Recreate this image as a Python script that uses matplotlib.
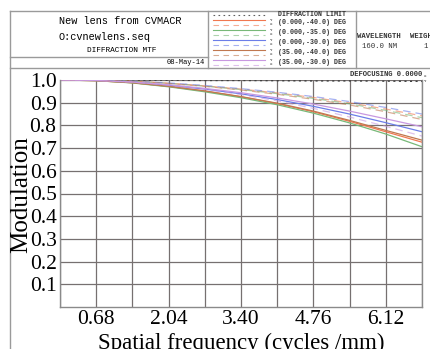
'''
Diffraction MTF plot (CODE V style)
'''

import numpy as np
import matplotlib
matplotlib.use('Agg')
import matplotlib.pyplot as plt
from matplotlib.lines import Line2D

# ═══ Data ═════════════════════════════════════════════════════════════════

freq = [0.0, 0.68, 1.36, 2.04, 2.72, 3.40, 4.08, 4.76, 5.44, 6.12, 6.80]
xtick_vals = [0.68, 2.04, 3.40, 4.76, 6.12]
ytick_vals = [0.1, 0.2, 0.3, 0.4, 0.5, 0.6, 0.7, 0.8, 0.9, 1.0]

diff_limit = [1.0, 1.0, 0.999, 0.999, 0.998, 0.998, 0.997, 0.996, 0.996, 0.995, 0.994]

fields = ['(0.000,-40.0) DEG', '(0.000,-35.0) DEG', '(0.000,-30.0) DEG',
          '(35.00,-40.0) DEG', '(35.00,-30.0) DEG']

# Y (tangential, solid)
mtf_y = [
  [1.0, 0.997, 0.988, 0.972, 0.951, 0.926, 0.896, 0.860, 0.818, 0.772, 0.726],
  [1.0, 0.997, 0.987, 0.970, 0.948, 0.922, 0.891, 0.854, 0.811, 0.762, 0.706],
  [1.0, 0.998, 0.990, 0.977, 0.960, 0.939, 0.914, 0.884, 0.850, 0.812, 0.772],
  [1.0, 0.997, 0.988, 0.972, 0.952, 0.927, 0.898, 0.863, 0.822, 0.778, 0.735],
  [1.0, 0.998, 0.991, 0.979, 0.963, 0.944, 0.921, 0.894, 0.863, 0.829, 0.794],
]
# X (sagittal, dashed)
mtf_x = [
  [1.0, 0.999, 0.995, 0.986, 0.974, 0.960, 0.943, 0.923, 0.899, 0.872, 0.842],
  [1.0, 0.999, 0.995, 0.985, 0.973, 0.958, 0.940, 0.919, 0.895, 0.866, 0.834],
  [1.0, 0.999, 0.995, 0.987, 0.976, 0.962, 0.946, 0.927, 0.905, 0.879, 0.850],
  [1.0, 0.999, 0.994, 0.985, 0.972, 0.956, 0.937, 0.915, 0.890, 0.860, 0.826],
  [1.0, 0.998, 0.990, 0.977, 0.959, 0.936, 0.908, 0.875, 0.837, 0.796, 0.753],
]

cols = ['#f07850', '#78b878', '#6c7ee8', '#c07850', '#c898e0']

# ═══ Figure ═══════════════════════════════════════════════════════════════

W, H = 431, 349
fig = plt.figure(figsize=(W/100, H/100), dpi=100)

def P(x, y):
  return x/W, 1 - y/H

mono = 'Liberation Mono'
serif = 'Liberation Serif'

# ─── Axes ─────────────────────────────────────────────────────────────────

L, R, T, B = 60, 422, 80, 307
ax = fig.add_axes([L/W, 1 - B/H, (R - L)/W, (B - T)/H])

ax.plot(freq, diff_limit, color='#404040', lw=1, linestyle=(0, (1.5, 2.5)))
for k in range(len(fields)):
  ax.plot(freq, mtf_x[k], color=cols[k], lw=0.9, alpha=0.6,
          linestyle=(k*2, (6, 4)))
  ax.plot(freq, mtf_y[k], color=cols[k], lw=0.9)

ax.set_xlim(0, 6.8)
ax.set_ylim(0, 1.0)
grid_x = np.arange(11)*0.68
ax.set_xticks(grid_x)
ax.set_xticklabels([f'{v:.2f}' if round(v, 2) in xtick_vals else '' for v in grid_x],
                   fontfamily=serif, fontsize=15.5)
ax.set_yticks(ytick_vals)
ax.set_yticklabels([f'{v:.1f}' for v in ytick_vals], fontfamily=serif, fontsize=15.5)
ax.tick_params(length=0, pad=2.5)
ax.grid(True, color='#767070', lw=0.9)
for s in ['left', 'right', 'bottom']:
  ax.spines[s].set_color('#8a8a8a')
  ax.spines[s].set_linewidth(1)
ax.spines['top'].set_visible(False)

fig.text(*P(21, 195), 'Modulation', rotation=90, ha='center', va='center',
         fontfamily=serif, fontsize=18)
fig.text(*P(241, 343), 'Spatial frequency (cycles /mm)', ha='center', va='center',
         fontfamily=serif, fontsize=16.5)

# ─── Header block ─────────────────────────────────────────────────────────

lc = '#9a9a9a'
def hline(x0, x1, y):
  fig.add_artist(Line2D([x0/W, x1/W], [1 - y/H, 1 - y/H], color=lc, lw=1))
def vline(x, y0, y1):
  fig.add_artist(Line2D([x/W, x/W], [1 - y0/H, 1 - y1/H], color=lc, lw=1))

hline(10, W, 11)
hline(10, W, 68)
hline(10, 208, 57)
vline(10, 11, H)
vline(208, 11, 68)
vline(356, 11, 68)

fig.text(*P(59, 21), 'New lens from CVMACR', fontfamily=mono, fontsize=7.4, va='center')
fig.text(*P(59, 37), 'O:cvnewlens.seq', fontfamily=mono, fontsize=7.4, va='center')
fig.text(*P(122, 50), 'DIFFRACTION MTF', fontfamily=mono, fontsize=5.6, ha='center', va='center')
fig.text(*P(205, 63), '08-May-14', fontfamily=mono, fontsize=5.1, ha='right', va='center')

# legend
fig.add_artist(Line2D([213/W, 265/W], [1 - 15/H]*2, color='#606060', lw=0.8,
                      linestyle=(0, (1.5, 3))))
fig.text(*P(278, 14), 'DIFFRACTION LIMIT', fontfamily=mono, fontsize=4.8,
         va='center', fontweight='bold', color='#333333')
rows = [22, 32, 42, 52, 62]
for k, f in enumerate(fields):
  y = rows[k]
  fig.add_artist(Line2D([213/W, 265/W], [1 - (y - 2.5)/H]*2, color=cols[k], lw=0.8))
  fig.add_artist(Line2D([213/W, 265/W], [1 - (y + 2.5)/H]*2, color=cols[k], lw=0.8,
                        alpha=0.6, linestyle=(0, (5, 4))))
  fig.text(*P(271, y - 2.2), 'Y', fontfamily=mono, fontsize=3, ha='center', va='center')
  fig.text(*P(271, y + 2.2), 'X', fontfamily=mono, fontsize=3, ha='center', va='center')
  fig.text(*P(278, y), f, fontfamily=mono, fontsize=4.8, va='center',
           fontweight='bold', color='#333333')

fig.text(*P(357, 37), 'WAVELENGTH', fontfamily=mono, fontsize=5.2, va='center',
         fontweight='bold', color='#333333')
fig.text(*P(362, 47), '160.0 NM', fontfamily=mono, fontsize=5.2, va='center', color='#333333')
fig.text(*P(410, 37), 'WEIGHT', fontfamily=mono, fontsize=5.2, va='center',
         fontweight='bold', color='#333333')
fig.text(*P(423, 47), '1', fontfamily=mono, fontsize=5.2, va='center', color='#333333')

fig.text(*P(350, 74), 'DEFOCUSING 0.0000', fontfamily=mono, fontsize=5.1, va='center',
         fontweight='bold', color='#333333')
fig.text(*P(425, 76), 'X', fontfamily=mono, fontsize=3, ha='center', va='center')
fig.text(*P(425, 81), 'Y', fontfamily=mono, fontsize=3, ha='center', va='center')

fig.savefig('out.png', dpi=100)
